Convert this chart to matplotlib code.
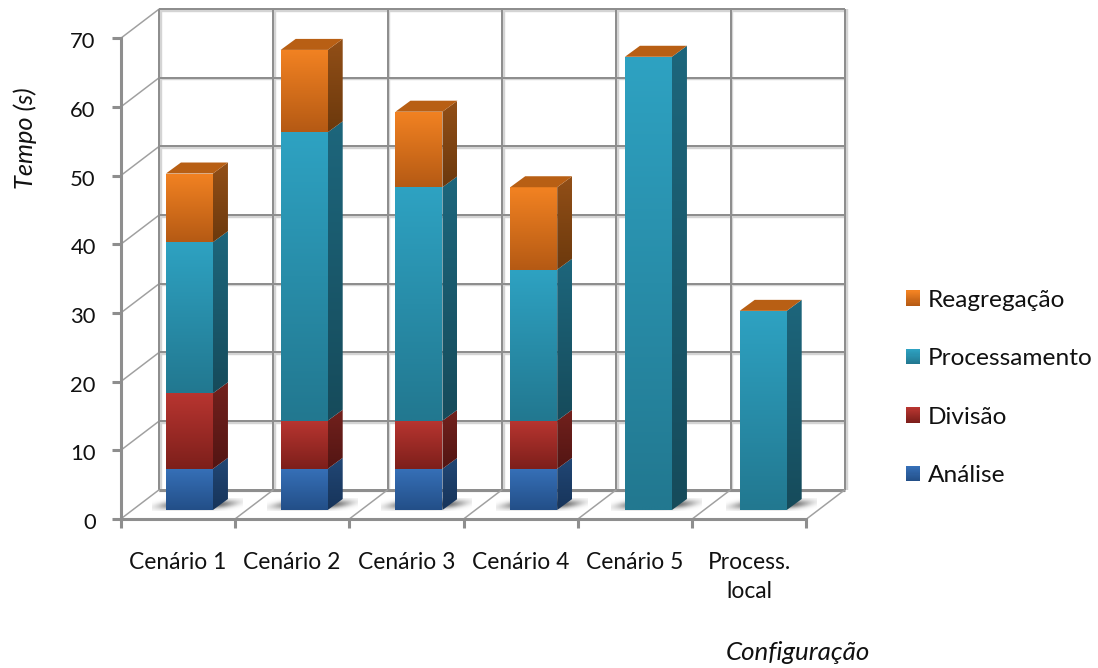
import numpy as np
import matplotlib
matplotlib.use("Agg")
import matplotlib.pyplot as plt
from matplotlib.colors import to_rgb
from matplotlib.legend_handler import HandlerBase
from matplotlib.patches import Patch, Polygon, Rectangle
from matplotlib.transforms import ScaledTranslation

# Execution time per configuration, in seconds
categories = ["Cenário 1", "Cenário 2", "Cenário 3", "Cenário 4", "Cenário 5", "Process.\nlocal"]
analise = [6, 6, 6, 6, 0, 0]
divisao = [11, 7, 7, 7, 0, 0]
processamento = [22, 42, 34, 22, 66, 29]
reagregacao = [10, 12, 11, 12, 0, 0]
y_ticks = [0, 10, 20, 30, 40, 50, 60, 70]

series_names = ["Análise", "Divisão", "Processamento", "Reagregação"]
series_values = [analise, divisao, processamento, reagregacao]
front_colors = [("#3670b8", "#234f88"), ("#b83530", "#7d1f1b"),
                ("#2ea2c2", "#227890"), ("#f28222", "#b55a14")]
side_colors = [("#214775", "#17345a"), ("#72211d", "#531513"),
               ("#1d667c", "#164b5b"), ("#924f17", "#6c390d")]
top_color = "#b85f14"

W, H = 1098, 668
plt.rcParams["font.family"] = ["Lato", "DejaVu Sans"]
fig = plt.figure(figsize=(W / 100, H / 100), dpi=100, facecolor="white")

# The axes cover the front plane of the 3D box
ax = fig.add_axes([120.7 / W, 1 - 519.0 / H, 685.8 / W, 480.7 / H])
ax.set_xlim(0, 6)
ax.set_ylim(0, 70)
ax.patch.set_alpha(0)

px_x = 6 / 685.8
px_y = 70 / 480.7
DX, DY = 38.5 * px_x, 29.3 * px_y          # depth of the box
BAR_DX, BAR_DY = 15 * px_x, 11 * px_y      # depth of a column
BAR_SHIFT, BAR_LIFT = 11.6 * px_x, 9 * px_y
BAR_DRIFT = 0.45 * px_x                    # perspective drift per category
HALF = 23.5 * px_x

GRID = "#8e8e8e"
SOFT = "#d4d4d4"


def gradient(verts, top, bottom, zorder):
    """Fill a polygon with a vertical two-colour gradient."""
    verts = np.asarray(verts)
    ramp = np.linspace(0, 1, 64)[:, None, None]
    img = (1 - ramp) * np.array(to_rgb(top)) + ramp * np.array(to_rgb(bottom))
    extent = (verts[:, 0].min(), verts[:, 0].max(), verts[:, 1].min(), verts[:, 1].max())
    im = ax.imshow(img, extent=extent, origin="upper", aspect="auto",
                   interpolation="bilinear", zorder=zorder)
    clip = Polygon(verts, closed=True, transform=ax.transData, fc="none", ec="none")
    im.set_clip_path(clip)


def line(xs, ys, color=GRID, px=1.6, z=1):
    ax.plot(xs, ys, color=color, lw=px * 0.72, clip_on=False, zorder=z,
            solid_capstyle="butt")


# Back wall, side wall and floor
for v in y_ticks:
    line([DX, 6 + DX], [v + DY - 1.5 * px_y] * 2, color=SOFT, px=2.4, z=1)
    line([DX, 6 + DX], [v + DY] * 2, px=3 if v == 0 else 2, z=2)
    if v > 0:
        line([0, DX], [v, v + DY], color="#a0a0a0", px=1.5, z=2)
for i in range(7):
    line([i + DX + 1.7 * px_x] * 2, [DY, 70 + DY], color=SOFT, px=2.4, z=1)
    line([i + DX] * 2, [DY, 70 + DY], px=2, z=2)
    line([i, i + DX], [0, DY], color="#a0a0a0", px=1.5, z=2)

# Soft contact shadow on the floor, slanting up behind each column
yy, xx = np.mgrid[1:-1:40j, -1:1:120j]
slant = xx - 0.25 * yy
blob = np.exp(-(np.abs(slant) ** 4) * 2.6 - (yy * 1.5) ** 2)
shadow = np.zeros(blob.shape + (4,))
shadow[..., :3] = 0.3
shadow[..., 3] = blob * 0.9

# Stacked columns
for i, cat in enumerate(categories):
    centre = i + 0.5 + BAR_SHIFT + i * BAR_DRIFT
    x0, x1 = centre - HALF, centre + HALF
    ax.imshow(shadow, extent=(x0 - 14 * px_x, x1 + 30 * px_x, BAR_LIFT - 1 * px_y, BAR_LIFT + 12 * px_y),
              aspect="auto", origin="upper", interpolation="bilinear", zorder=3, clip_on=False)
    base = BAR_LIFT
    for k in range(len(series_names)):
        h = series_values[k][i]
        if h == 0:
            continue
        y0, y1 = base, base + h
        gradient([(x0, y0), (x1, y0), (x1, y1), (x0, y1)], *front_colors[k], 5)
        gradient([(x1, y0), (x1 + BAR_DX, y0 + BAR_DY), (x1 + BAR_DX, y1 + BAR_DY), (x1, y1)],
                 *side_colors[k], 5)
        base = y1
    ax.add_patch(Polygon([(x0, base), (x1, base), (x1 + BAR_DX, base + BAR_DY), (x0 + BAR_DX, base + BAR_DY)],
                         closed=True, fc=top_color, ec="none", zorder=5, clip_on=False))

ax.set_xlim(0, 6)
ax.set_ylim(0, 70)

# Axes lines and ticks
for name in ("top", "right"):
    ax.spines[name].set_visible(False)
for name in ("left", "bottom"):
    ax.spines[name].set_color(GRID)
    ax.spines[name].set_linewidth(2.2)
    ax.spines[name].set_zorder(6)
ax.set_xticks(range(7))
ax.set_xticklabels([])
ax.set_xticks([i + 0.5 for i in range(6)], labels=categories, minor=True)
ax.set_yticks(y_ticks)
ax.tick_params(axis="x", which="major", length=6.5, width=2.2, color=GRID)
ax.tick_params(axis="x", which="minor", length=0, pad=24, labelsize=16.4, labelcolor="#111111")
ax.tick_params(axis="y", which="major", length=6.5, width=2.2, color=GRID,
               pad=11.5, labelsize=15.8, labelcolor="#111111")
for lab in ax.get_xticklabels(minor=True):
    lab.set_linespacing(1.48)
nudge = ScaledTranslation(0, -2 / 100, fig.dpi_scale_trans)
for lab in ax.get_yticklabels():
    lab.set_transform(lab.get_transform() + nudge)

fig.text(25 / W, 1 - 138.5 / H, "Tempo (s)", rotation=90, style="italic", fontsize=18.3,
         ha="center", va="center", color="#111111")
fig.text(797.5 / W, 1 - 653 / H, "Configuração", style="italic", fontsize=18.6,
         ha="center", va="center", color="#111111")


class GradientHandle(HandlerBase):
    """Legend key drawn as a stack of thin strips forming a vertical gradient."""

    def create_artists(self, legend, orig, xd, yd, width, height, fontsize, trans):
        top, bottom = orig.gradient
        c0, c1 = np.array(to_rgb(top)), np.array(to_rgb(bottom))
        n = 14
        out = []
        for j in range(n):
            f = j / (n - 1)
            out.append(Rectangle((-xd, -yd + height * (1 - (j + 1) / n)), width, height / n + 0.05,
                                 fc=(1 - f) * c0 + f * c1, ec="none", transform=trans))
        return out


handles = []
for k in range(3, -1, -1):
    p = Patch(label=series_names[k])
    p.gradient = front_colors[k]
    handles.append(p)
leg = ax.legend(handles=handles, handler_map={Patch: GradientHandle()}, frameon=False,
                loc="center left", bbox_to_anchor=(886 / W, 1 - 388 / H),
                bbox_transform=fig.transFigure, fontsize=17.6, handlelength=0.6, handleheight=0.6,
                handletextpad=0.3, labelspacing=1.53, borderpad=0.3, labelcolor="#111111")

fig.savefig("out.png", dpi=100)
